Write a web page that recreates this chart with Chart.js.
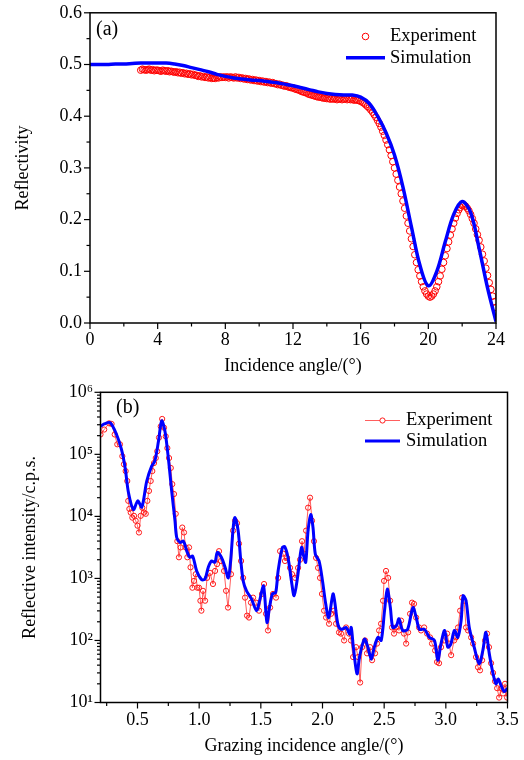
<!DOCTYPE html>
<html>
<head>
<meta charset="utf-8">
<title>Reflectivity</title>
<script src="https://cdn.jsdelivr.net/npm/chart.js@4.4.0/dist/chart.umd.min.js"></script>
<style>
  html, body { margin: 0; padding: 0; background: #fff; }
  #wrap { position: relative; width: 524px; height: 760px; }
  .box { position: absolute; left: 0; width: 524px; height: 380px; }
  #boxA { top: 0; }
  #boxB { top: 380px; }
</style>
</head>
<body>
<div id="wrap">
  <div class="box" id="boxA"><canvas id="chartA"></canvas></div>
  <div class="box" id="boxB"><canvas id="chartB"></canvas></div>
</div>
<script>
// ---- (a) reflectivity vs incidence angle ----
var xTicksA = [0, 4, 8, 12, 16, 20, 24];
var yTicksA = [0, 0.1, 0.2, 0.3, 0.4, 0.5, 0.6];

var expAngleA = [
  3.0, 3.1, 3.2, 3.3, 3.4, 3.5, 3.6, 3.7, 3.8, 3.9,
  4.0, 4.1, 4.2, 4.3, 4.4, 4.5, 4.6, 4.7, 4.8, 4.9,
  5.0, 5.1, 5.2, 5.3, 5.4, 5.5, 5.6, 5.7, 5.8, 5.9,
  6.0, 6.1, 6.2, 6.3, 6.4, 6.5, 6.6, 6.7, 6.8, 6.9,
  7.0, 7.1, 7.2, 7.3, 7.4, 7.5, 7.6, 7.7, 7.8, 7.9,
  8.0, 8.1, 8.2, 8.3, 8.4, 8.5, 8.6, 8.7, 8.8, 8.9,
  9.0, 9.1, 9.2, 9.3, 9.4, 9.5, 9.6, 9.7, 9.8, 9.9,
  10.0, 10.1, 10.2, 10.3, 10.4, 10.5, 10.6, 10.7, 10.8, 10.9,
  11.0, 11.1, 11.2, 11.3, 11.4, 11.5, 11.6, 11.7, 11.8, 11.9,
  12.0, 12.1, 12.2, 12.3, 12.4, 12.5, 12.6, 12.7, 12.8, 12.9,
  13.0, 13.1, 13.2, 13.3, 13.4, 13.5, 13.6, 13.7, 13.8, 13.9,
  14.0, 14.1, 14.2, 14.3, 14.4, 14.5, 14.6, 14.7, 14.8, 14.9,
  15.0, 15.1, 15.2, 15.3, 15.4, 15.5, 15.6, 15.7, 15.8, 15.9,
  16.0, 16.1, 16.2, 16.3, 16.4, 16.5, 16.6, 16.7, 16.8, 16.9,
  17.0, 17.1, 17.2, 17.3, 17.4, 17.5, 17.6, 17.7, 17.8, 17.9,
  18.0, 18.1, 18.2, 18.3, 18.4, 18.5, 18.6, 18.7, 18.8, 18.9,
  19.0, 19.1, 19.2, 19.3, 19.4, 19.5, 19.6, 19.7, 19.8, 19.9,
  20.0, 20.1, 20.2, 20.3, 20.4, 20.5, 20.6, 20.7, 20.8, 20.9,
  21.0, 21.1, 21.2, 21.3, 21.4, 21.5, 21.6, 21.7, 21.8, 21.9,
  22.0, 22.1, 22.2, 22.3, 22.4, 22.5, 22.6, 22.7, 22.8, 22.9,
  23.0, 23.1, 23.2, 23.3, 23.4, 23.5, 23.6, 23.7, 23.8, 23.9,
  24.0];
var expReflA = [
  0.489, 0.491, 0.490, 0.489, 0.490, 0.491, 0.489, 0.490, 0.488, 0.489,
  0.489, 0.488, 0.487, 0.489, 0.488, 0.487, 0.488, 0.486, 0.487, 0.486,
  0.485, 0.486, 0.484, 0.485, 0.483, 0.484, 0.482, 0.483, 0.481, 0.482,
  0.480, 0.481, 0.479, 0.479, 0.477, 0.478, 0.476, 0.477, 0.475, 0.476,
  0.474, 0.475, 0.473, 0.474, 0.473, 0.475, 0.474, 0.476, 0.475, 0.476,
  0.475, 0.476, 0.474, 0.476, 0.475, 0.474, 0.476, 0.474, 0.475, 0.473,
  0.474, 0.472, 0.473, 0.471, 0.472, 0.470, 0.471, 0.469, 0.470, 0.468,
  0.469, 0.467, 0.468, 0.466, 0.467, 0.465, 0.466, 0.464, 0.465, 0.463,
  0.463, 0.461, 0.462, 0.460, 0.460, 0.458, 0.459, 0.457, 0.456, 0.455,
  0.455, 0.453, 0.452, 0.451, 0.450, 0.448, 0.447, 0.446, 0.445, 0.443,
  0.442, 0.441, 0.440, 0.439, 0.438, 0.437, 0.437, 0.436, 0.435, 0.435,
  0.434, 0.435, 0.433, 0.434, 0.433, 0.434, 0.432, 0.433, 0.434, 0.432,
  0.433, 0.434, 0.432, 0.433, 0.432, 0.433, 0.431, 0.432, 0.431, 0.430,
  0.429, 0.427, 0.425, 0.422, 0.419, 0.416, 0.412, 0.408, 0.403, 0.398,
  0.392, 0.386, 0.379, 0.371, 0.363, 0.354, 0.345, 0.335, 0.324, 0.312,
  0.300, 0.288, 0.276, 0.263, 0.250, 0.236, 0.222, 0.207, 0.193, 0.178,
  0.163, 0.148, 0.132, 0.117, 0.103, 0.091, 0.080, 0.070, 0.062, 0.056,
  0.052, 0.050, 0.052, 0.056, 0.062, 0.070, 0.080, 0.091, 0.104, 0.117,
  0.130, 0.144, 0.157, 0.170, 0.182, 0.193, 0.203, 0.212, 0.219, 0.224,
  0.227, 0.228, 0.226, 0.222, 0.217, 0.210, 0.202, 0.193, 0.182, 0.171,
  0.160, 0.147, 0.133, 0.120, 0.106, 0.092, 0.078, 0.065, 0.052, 0.041,
  0.030];

var simAngleA = [0, 0.5, 1, 1.5, 2, 2.5, 3, 3.5, 4, 4.5, 5, 5.5, 6, 6.5, 7, 7.5, 8, 8.5, 9, 9.5, 10, 10.5, 11, 11.5,
  12, 12.5, 13, 13.5, 14, 14.5, 15, 15.5, 16, 16.5, 17, 17.5, 18, 18.5, 19, 19.5, 20, 20.5, 21, 21.5, 22, 22.5, 23, 23.5, 24];
var simReflA = [0.500, 0.500, 0.500, 0.501, 0.501, 0.502, 0.503, 0.503, 0.503, 0.503, 0.501, 0.498, 0.494, 0.490, 0.486, 0.481, 0.477, 0.474, 0.472, 0.470, 0.469, 0.467, 0.465, 0.462,
  0.459, 0.455, 0.451, 0.447, 0.444, 0.442, 0.441, 0.441, 0.437, 0.425, 0.400, 0.368, 0.325, 0.263, 0.186, 0.112, 0.072, 0.100, 0.157, 0.210, 0.235, 0.214, 0.145, 0.068, 0.003];

// ---- (b) reflective intensity vs grazing incidence angle ----
var xTicksB = [0.5, 1.0, 1.5, 2.0, 2.5, 3.0, 3.5];
var yTicksB = [10, 100, 1000, 10000, 100000, 1000000];

var expAngleB = [0.200, 0.230, 0.270, 0.290, 0.315, 0.336, 0.358, 0.377, 0.390, 0.404, 0.417, 0.425, 0.434, 0.445, 0.458, 0.472, 0.485, 0.500, 0.512, 0.526,
  0.539, 0.553, 0.567, 0.580, 0.593, 0.607, 0.620, 0.634, 0.648, 0.660, 0.674, 0.688, 0.700, 0.715, 0.729, 0.742, 0.756, 0.770, 0.782, 0.796,
  0.810, 0.823, 0.836, 0.850, 0.863, 0.877, 0.890, 0.904, 0.918, 0.930, 0.945, 0.958, 0.972, 0.985, 0.999, 1.010, 1.018, 1.031, 1.048, 1.064,
  1.088, 1.112, 1.129, 1.145, 1.161, 1.177, 1.202, 1.218, 1.234, 1.258, 1.275, 1.291, 1.307, 1.323, 1.340, 1.356, 1.372, 1.388, 1.404, 1.420,
  1.437, 1.461, 1.485, 1.510, 1.526, 1.542, 1.558, 1.575, 1.599, 1.623, 1.640, 1.656, 1.680, 1.696, 1.713, 1.737, 1.753, 1.778, 1.802, 1.818,
  1.834, 1.850, 1.867, 1.883, 1.899, 1.915, 1.931, 1.948, 1.964, 1.980, 1.996, 2.013, 2.029, 2.053, 2.070, 2.094, 2.110, 2.134, 2.150, 2.175,
  2.191, 2.215, 2.231, 2.248, 2.272, 2.288, 2.305, 2.321, 2.345, 2.361, 2.386, 2.402, 2.426, 2.442, 2.459, 2.475, 2.491, 2.499, 2.515, 2.532,
  2.548, 2.564, 2.580, 2.596, 2.621, 2.637, 2.661, 2.678, 2.694, 2.710, 2.726, 2.742, 2.759, 2.783, 2.799, 2.824, 2.848, 2.872, 2.888, 2.913,
  2.929, 2.945, 2.961, 2.986, 3.010, 3.026, 3.043, 3.067, 3.083, 3.099, 3.116, 3.132, 3.148, 3.164, 3.180, 3.205, 3.221, 3.245, 3.261, 3.277,
  3.294, 3.318, 3.334, 3.350, 3.367, 3.383, 3.399, 3.416, 3.432, 3.448, 3.464, 3.480, 3.497];
var expIntB = [209000, 251000, 316000, 309000, 209000, 145000, 145000, 93300, 69200, 53700, 37200, 17800, 13200, 11500, 9550, 10200, 8510, 7080, 5500, 10200,
  13800, 11500, 11000, 17800, 25700, 37200, 53700, 72400, 87100, 112000, 186000, 282000, 372000, 269000, 195000, 126000, 87100, 60300, 33100, 22900,
  11000, 3980, 2190, 3160, 6610, 5500, 3160, 2190, 3160, 1510, 708, 912, 1170, 708, 708, 437, 302, 631, 437, 1020,
  1230, 813, 1320, 1700, 2750, 1910, 1320, 631, 339, 1170, 5890, 8510, 7760, 3630, 1910, 1020, 490, 251, 234, 407,
  490, 407, 302, 562, 813, 269, 145, 339, 562, 490, 1020, 2750, 2510, 1910, 2140, 1480, 1170, 1020, 1480, 2000,
  3980, 2510, 5890, 13800, 20000, 8510, 3980, 2140, 1480, 1020, 562, 302, 234, 186, 269, 302, 186, 135, 129, 100,
  162, 129, 100, 54, 78, 54, 21, 78, 100, 62, 78, 48, 62, 89, 145, 186, 437, 912, 1320, 1020,
  437, 162, 129, 162, 145, 209, 129, 89, 135, 269, 407, 389, 234, 162, 145, 162, 129, 112, 89, 69,
  45, 43, 78, 100, 129, 89, 58, 100, 112, 162, 302, 490, 437, 162, 145, 112, 89, 54, 37, 33,
  48, 100, 129, 78, 43, 30, 22, 17, 12, 17, 14, 20, 12];

var simAngleB = [0.200, 0.230, 0.278, 0.330, 0.370, 0.400, 0.427, 0.467, 0.502, 0.535, 0.575, 0.615, 0.640, 0.670, 0.696, 0.723, 0.750, 0.777, 0.804, 0.818,
  0.845, 0.872, 0.900, 0.925, 0.947, 0.980, 1.020, 1.047, 1.074, 1.100, 1.128, 1.147, 1.180, 1.210, 1.236, 1.255, 1.276, 1.290, 1.316, 1.335,
  1.357, 1.384, 1.424, 1.465, 1.490, 1.520, 1.530, 1.550, 1.570, 1.594, 1.620, 1.640, 1.675, 1.694, 1.720, 1.748, 1.770, 1.797, 1.830, 1.848,
  1.864, 1.883, 1.905, 1.923, 1.942, 1.972, 2.000, 2.026, 2.050, 2.085, 2.098, 2.125, 2.152, 2.193, 2.220, 2.233, 2.250, 2.280, 2.300, 2.340,
  2.368, 2.395, 2.420, 2.450, 2.476, 2.503, 2.525, 2.550, 2.570, 2.600, 2.620, 2.650, 2.690, 2.733, 2.760, 2.786, 2.827, 2.867, 2.908, 2.935,
  2.960, 2.990, 3.016, 3.040, 3.070, 3.097, 3.124, 3.140, 3.164, 3.190, 3.230, 3.270, 3.300, 3.325, 3.353, 3.380, 3.406, 3.425, 3.447, 3.474, 3.500];
var simIntB = [282000, 309000, 324000, 209000, 120000, 60300, 24000, 12900, 17800, 14100, 37200, 64600, 77600, 162000, 347000, 234000, 87100, 25700, 8510, 4570,
  3800, 3980, 2750, 2190, 2290, 1320, 955, 977, 1510, 1910, 1820, 2630, 2190, 1510, 1020, 1910, 6610, 9550, 5890, 2190,
  912, 631, 468, 302, 437, 759, 562, 195, 339, 562, 589, 1320, 3160, 3240, 2190, 912, 525, 1020, 3160, 2290,
  1820, 5890, 10700, 6610, 2450, 1910, 912, 389, 234, 562, 437, 182, 151, 162, 126, 162, 78, 29, 54, 105,
  78, 50, 78, 112, 100, 302, 676, 339, 162, 174, 224, 145, 151, 339, 234, 151, 151, 112, 100, 48,
  87, 145, 78, 87, 145, 112, 209, 525, 437, 162, 78, 42, 69, 135, 60, 31, 20, 24, 19, 15, 17];

var SERIF = "'Liberation Serif', 'Times New Roman', serif";
var SUP = ['\u2070', '\u00b9', '\u00b2', '\u00b3', '\u2074', '\u2075', '\u2076'];

function pts(xs, ys) {
  return xs.map(function(x, i) { return {x: x, y: ys[i]}; });
}

// majors from the tick array plus a minor tick half way between each pair
function withMidTicks(majors, lo, hi) {
  var out = [];
  var step = majors[1] - majors[0];
  for (var i = 0; i < majors.length; i++) {
    var before = majors[i] - step / 2;
    if (i === 0 && before >= lo - 1e-9) out.push({value: before});
    out.push({value: majors[i]});
    if (i < majors.length - 1) out.push({value: (majors[i] + majors[i + 1]) / 2});
  }
  return out;
}

// outward tick marks (long for labelled ticks, short for the rest) and the full box
var axisFrame = {
  id: 'axisFrame',
  afterDatasetsDraw: function(chart) {
    var ctx = chart.ctx, a = chart.chartArea;
    var sx = chart.scales.x, sy = chart.scales.y;
    ctx.save();
    ctx.strokeStyle = '#000';
    ctx.lineWidth = 1.2;
    sx.ticks.forEach(function(t) {
      var px = sx.getPixelForValue(t.value);
      var len = t.label ? 6 : 3.5;
      ctx.beginPath();
      ctx.moveTo(px, a.bottom);
      ctx.lineTo(px, a.bottom + len);
      ctx.stroke();
    });
    sy.ticks.forEach(function(t) {
      var py = sy.getPixelForValue(t.value);
      var len = t.label ? 6 : 3.5;
      ctx.beginPath();
      ctx.moveTo(a.left, py);
      ctx.lineTo(a.left - len, py);
      ctx.stroke();
    });
    ctx.lineWidth = 1.5;
    ctx.strokeRect(a.left, a.top, a.right - a.left, a.bottom - a.top);
    ctx.restore();
  }
};

// legend in the top right corner and the panel tag in the top left
var inlineLegend = {
  id: 'inlineLegend',
  afterDraw: function(chart, args, o) {
    var ctx = chart.ctx;
    ctx.save();
    ctx.textBaseline = 'middle';
    ctx.textAlign = 'left';
    chart.data.datasets.forEach(function(ds, i) {
      var y = o.rows[i];
      if (ds.showLine) {
        ctx.strokeStyle = ds.borderColor;
        ctx.lineWidth = ds.borderWidth;
        ctx.beginPath();
        ctx.moveTo(o.lineX, y);
        ctx.lineTo(o.lineX + o.lineLen, y);
        ctx.stroke();
      }
      if (ds.pointRadius > 0) {
        ctx.strokeStyle = ds.pointBorderColor;
        ctx.lineWidth = ds.pointBorderWidth;
        ctx.fillStyle = '#fff';
        ctx.beginPath();
        ctx.arc(o.lineX + o.lineLen / 2, y, ds.pointRadius, 0, Math.PI * 2);
        ctx.fill();
        ctx.stroke();
      }
      ctx.fillStyle = '#000';
      ctx.font = o.font;
      ctx.fillText(ds.label, o.textX, y);
    });
    ctx.font = o.tagFont;
    ctx.fillText(o.tag, o.tagX, o.tagY);
    ctx.restore();
  }
};

function baseOptions() {
  return {
    responsive: true,
    maintainAspectRatio: false,
    animation: false,
    events: [],
    plugins: { legend: { display: false }, tooltip: { enabled: false } }
  };
}

var tickGrid = {
  display: true,
  drawOnChartArea: false,
  drawTicks: true,
  tickLength: 6,
  tickColor: 'rgba(0,0,0,0)'
};

// ---------- chart (a) ----------
var optA = baseOptions();
optA.layout = { padding: { top: 12, right: 28, bottom: 0, left: 0 } };
optA.scales = {
  x: {
    type: 'linear', min: 0, max: 24,
    grid: tickGrid, border: { display: false },
    afterBuildTicks: function(s) { s.ticks = withMidTicks(xTicksA, 0, 24); },
    afterFit: function(s) { s.height = 57; },
    ticks: {
      autoSkip: false, maxRotation: 0, padding: 0, color: '#000',
      font: { family: SERIF, size: 18 },
      callback: function(v) { return xTicksA.indexOf(v) >= 0 ? String(v) : ''; }
    },
    title: { display: true, text: 'Incidence angle/(\u00b0)', color: '#000',
      font: { family: SERIF, size: 18 }, padding: { top: 0, bottom: 3 } }
  },
  y: {
    type: 'linear', min: 0, max: 0.6,
    grid: tickGrid, border: { display: false },
    afterBuildTicks: function(s) { s.ticks = withMidTicks(yTicksA, 0, 0.6); },
    afterFit: function(s) { s.width = 90; },
    ticks: {
      autoSkip: false, padding: 2, color: '#000',
      font: { family: SERIF, size: 18 },
      callback: function(v) { return yTicksA.indexOf(v) >= 0 ? v.toFixed(1) : ''; }
    },
    title: { display: true, text: 'Reflectivity', color: '#000',
      font: { family: SERIF, size: 18 }, padding: { top: 12, bottom: 0 } }
  }
};
optA.plugins.inlineLegend = {
  rows: [36.5, 57.8], lineX: 346, lineLen: 39, textX: 390,
  font: '18.5px ' + SERIF,
  tag: '(a)', tagX: 96, tagY: 29.5, tagFont: '20px ' + SERIF
};

new Chart(document.getElementById('chartA'), {
  type: 'scatter',
  data: {
    datasets: [
      {
        label: 'Experiment',
        data: pts(expAngleA, expReflA),
        showLine: false,
        order: 1,
        pointRadius: 3.3,
        pointBorderWidth: 1,
        pointBorderColor: '#ff0000',
        pointBackgroundColor: 'rgba(255,255,255,0)',
        borderColor: '#ff0000',
        borderWidth: 1
      },
      {
        label: 'Simulation',
        data: pts(simAngleA, simReflA),
        showLine: true,
        order: 0,
        tension: 0.35,
        borderColor: '#0000ff',
        borderWidth: 3.5,
        pointRadius: 0
      }
    ]
  },
  options: optA,
  plugins: [axisFrame, inlineLegend]
});

// ---------- chart (b) ----------
var optB = baseOptions();
optB.layout = { padding: { top: 11, right: 16.5, bottom: 0, left: 0 } };
optB.scales = {
  x: {
    type: 'linear', min: 0.2, max: 3.5,
    grid: tickGrid, border: { display: false },
    afterBuildTicks: function(s) { s.ticks = withMidTicks(xTicksB, 0.2, 3.5); },
    afterFit: function(s) { s.height = 57.5; },
    ticks: {
      autoSkip: false, maxRotation: 0, padding: 1, color: '#000',
      font: { family: SERIF, size: 18 },
      callback: function(v) { return xTicksB.indexOf(v) >= 0 ? v.toFixed(1) : ''; }
    },
    title: { display: true, text: 'Grazing incidence angle/(\u00b0)', color: '#000',
      font: { family: SERIF, size: 18 }, padding: { top: 0, bottom: 3 } }
  },
  y: {
    type: 'logarithmic', min: 10, max: 1000000,
    grid: tickGrid, border: { display: false },
    afterBuildTicks: function(s) {
      var t = [];
      yTicksB.forEach(function(v, i) {
        t.push({value: v});
        if (i < yTicksB.length - 1) {
          for (var k = 2; k <= 9; k++) t.push({value: v * k});
        }
      });
      s.ticks = t;
    },
    afterFit: function(s) { s.width = 100.5; },
    ticks: {
      autoSkip: false, padding: 1.5, color: '#000',
      font: { family: SERIF, size: 18 },
      callback: function(v) {
        var e = Math.round(Math.log10(v));
        return yTicksB.indexOf(v) >= 0 ? '10' + SUP[e] : '';
      }
    },
    title: { display: true, text: 'Reflective intensity/c.p.s.', color: '#000',
      font: { family: SERIF, size: 18 }, padding: { top: 19, bottom: 0 } }
  }
};
optB.plugins.inlineLegend = {
  rows: [40.5, 61], lineX: 365, lineLen: 35, textX: 406,
  font: '18.5px ' + SERIF,
  tag: '(b)', tagX: 116, tagY: 27.5, tagFont: '20px ' + SERIF
};

new Chart(document.getElementById('chartB'), {
  type: 'scatter',
  data: {
    datasets: [
      {
        label: 'Experiment',
        data: pts(expAngleB, expIntB),
        showLine: true,
        order: 1,
        tension: 0,
        borderColor: 'rgba(255,40,40,0.75)',
        borderWidth: 1,
        pointRadius: 2.6,
        pointBorderWidth: 1,
        pointBorderColor: '#ff1a1a',
        pointBackgroundColor: 'rgba(255,255,255,0)'
      },
      {
        label: 'Simulation',
        data: pts(simAngleB, simIntB),
        showLine: true,
        order: 0,
        tension: 0.3,
        borderColor: '#0000ff',
        borderWidth: 3,
        pointRadius: 0
      }
    ]
  },
  options: optB,
  plugins: [axisFrame, inlineLegend]
});
</script>
</body>
</html>
